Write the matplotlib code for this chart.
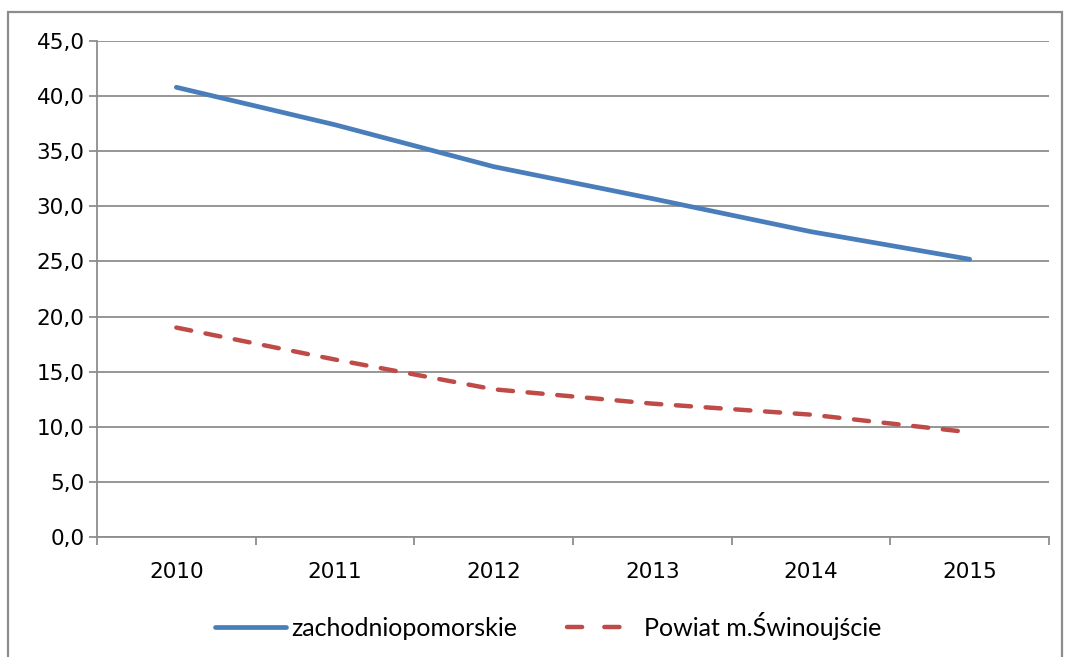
import matplotlib
matplotlib.use("Agg")
import matplotlib.pyplot as plt
from matplotlib.patches import Rectangle
from matplotlib.lines import Line2D
from matplotlib.ticker import FixedLocator, FuncFormatter

years = ["2010", "2011", "2012", "2013", "2014", "2015"]
zachodniopomorskie = [40.8, 37.4, 33.6, 30.7, 27.7, 25.2]
swinoujscie = [19.0, 16.1, 13.4, 12.1, 11.1, 9.5]
series_names = ["zachodniopomorskie", "Powiat m.Świnoujście"]

BLUE = "#4A7EBB"
RED = "#BE4B48"

W, H = 1065, 657
fig = plt.figure(figsize=(W / 100, H / 100), dpi=100)
ax = fig.add_axes([97 / W, 1 - 537 / H, (1049 - 97) / W, (537 - 41) / H])

x = list(range(len(years)))
ax.plot(x, zachodniopomorskie, color=BLUE, lw=3.4, solid_capstyle="round",
        solid_joinstyle="round")
ax.plot(x, swinoujscie, color=RED, lw=3.2, dash_capstyle="round",
        linestyle=(0, (3.4, 3.3)))

ax.set_xlim(-0.5, len(years) - 0.5)
ax.set_ylim(0, 45)
ax.set_yticks([i * 5 for i in range(10)])
ax.yaxis.set_major_formatter(FuncFormatter(lambda v, p: f"{v:.1f}".replace(".", ",")))
ax.set_xticks(x)
ax.set_xticklabels(years)
ax.xaxis.set_minor_locator(FixedLocator([i - 0.5 for i in range(len(years) + 1)]))

grid_c = "#8E8E8E"
ax.grid(axis="y", color=grid_c, lw=1.3)
ax.set_axisbelow(True)
for s in ["top", "right"]:
    ax.spines[s].set_visible(False)
for s in ["left", "bottom"]:
    ax.spines[s].set_color(grid_c)
    ax.spines[s].set_linewidth(1.3)

ax.tick_params(axis="y", which="major", length=6, width=1.3, color=grid_c,
               labelsize=15.5, labelcolor="#000000", pad=3)
ax.tick_params(axis="x", which="major", length=0, labelsize=15.5, labelcolor="#000000", pad=18)
ax.tick_params(axis="x", which="minor", length=6, width=1.3, color=grid_c)

# outer chart border (partially cropped)
fig.patches.append(Rectangle((8 / W, -0.05), (1062 - 8) / W, 1.05 - 12 / H,
                             transform=fig.transFigure, fill=False,
                             edgecolor="#8C8C8C", lw=1.6))

handles = [
    Line2D([], [], color=BLUE, lw=3.4, solid_capstyle="round"),
    Line2D([], [], color=RED, lw=3.2, dash_capstyle="round", linestyle=(0, (3.4, 5.0))),
]
fig.legend(handles, series_names, loc="center", bbox_to_anchor=(548 / W, 1 - 626 / H), ncol=2,
           frameon=False, handlelength=2.85, columnspacing=2.0,
           handletextpad=0.2, prop={"family": "Lato", "size": 18})

fig.savefig("out.png", dpi=100)
